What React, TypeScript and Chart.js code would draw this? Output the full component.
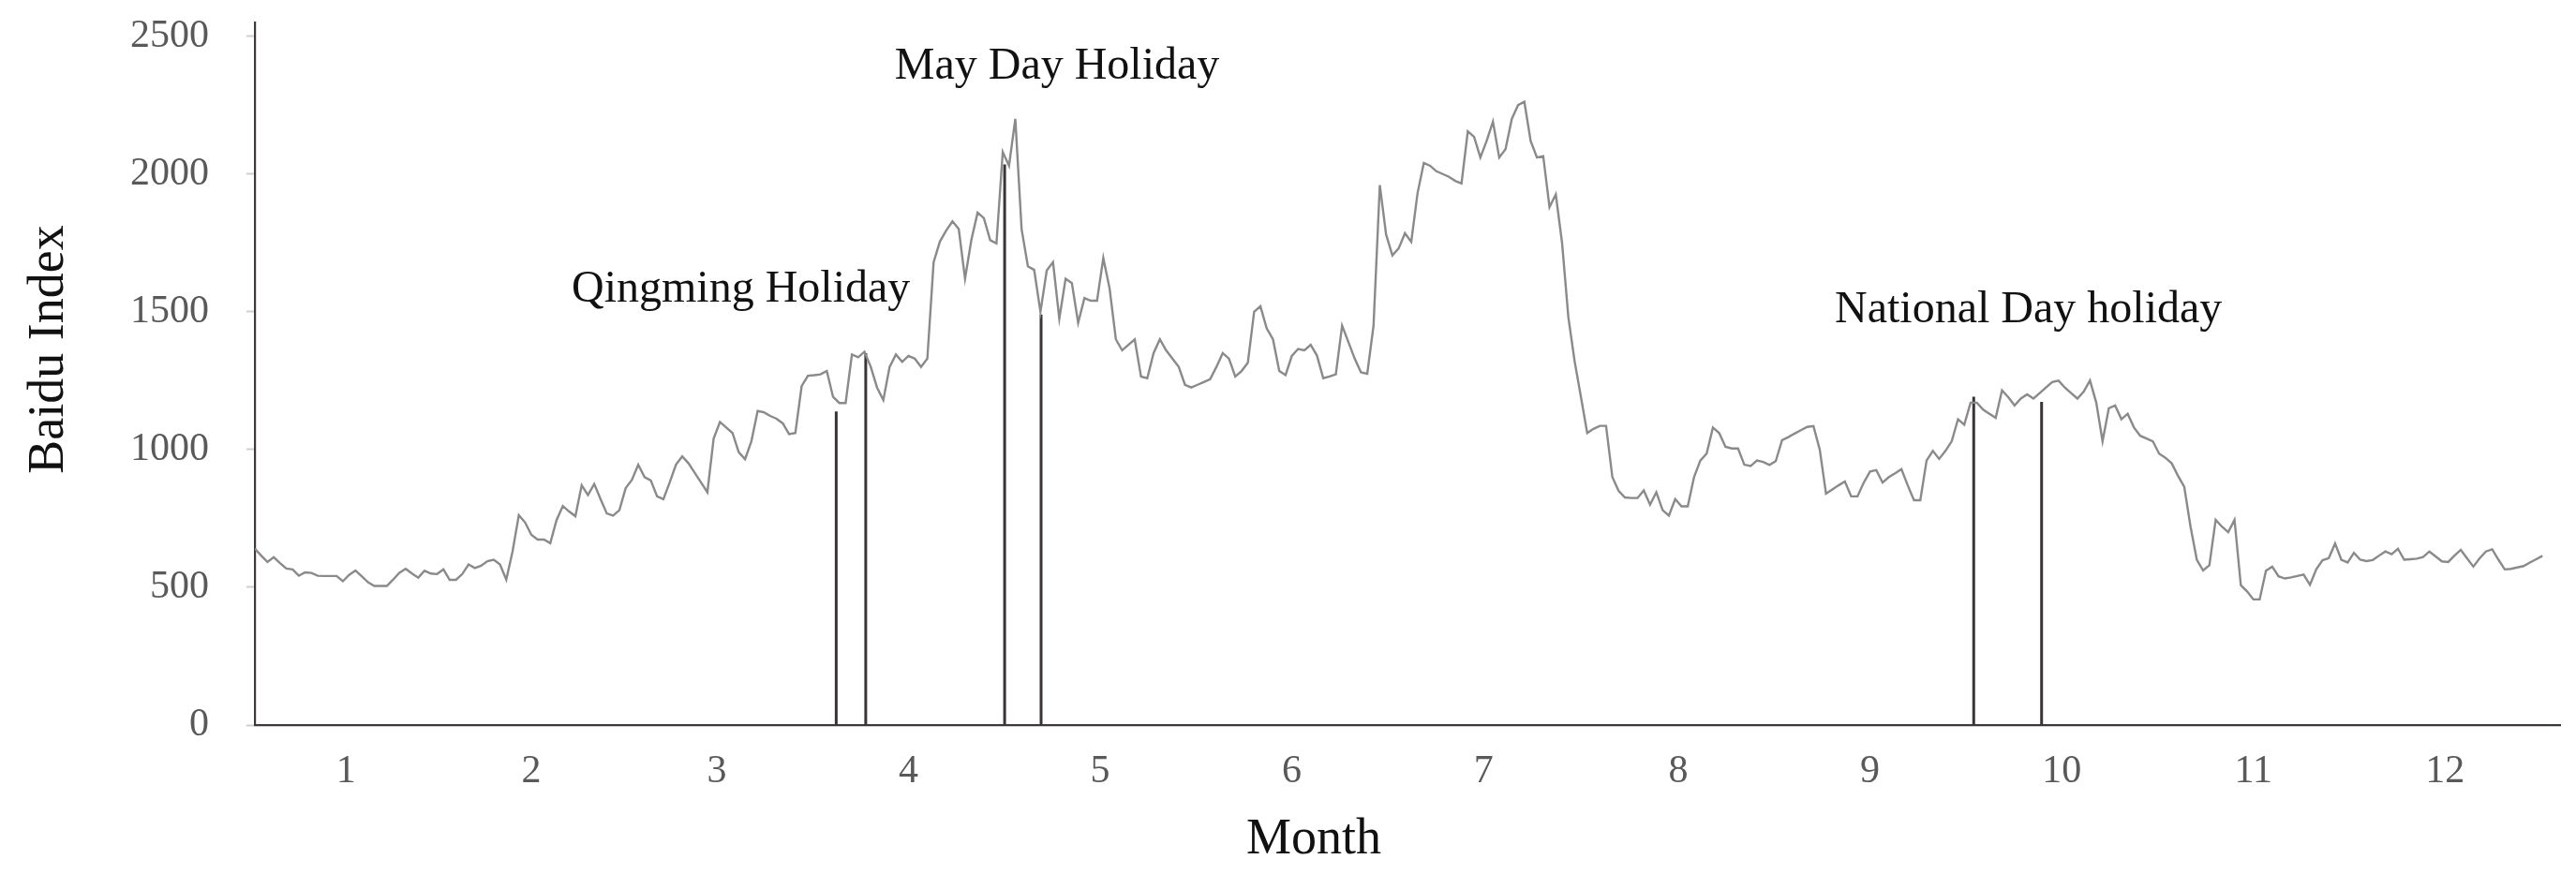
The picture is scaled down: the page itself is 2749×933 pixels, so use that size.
import React, { useEffect, useRef } from 'react';
import { Chart, registerables } from 'chart.js';

Chart.register(...registerables);

const SERIF = "'Liberation Serif', 'Times New Roman', serif";

const monthLabels = ['1', '2', '3', '4', '5', '6', '7', '8', '9', '10', '11', '12'];
const monthLengths = [31, 28, 31, 30, 31, 30, 31, 31, 30, 31, 30, 31];
const yTickValues = [0, 500, 1000, 1500, 2000, 2500];

// Daily Baidu Index, day 0 = 1 January
const dailyIndex = [
  640, 615, 592, 609, 588, 568, 565, 542, 554, 552,
  542, 541, 541, 541, 522, 545, 561, 540, 518, 505,
  505, 505, 528, 553, 567, 550, 535, 560, 550, 548,
  565, 527, 527, 548, 583, 570, 578, 595, 600, 583,
  528, 630, 762, 735, 690, 673, 673, 660, 744, 795,
  775, 758, 870, 835, 875, 820, 768, 760, 780, 860,
  890, 945, 900, 888, 830, 820, 880, 945, 975, 950,
  915, 880, 845, 1040, 1100, 1080, 1060, 990, 965, 1030,
  1140, 1135, 1122, 1112, 1095, 1056, 1060, 1230, 1268, 1270,
  1273, 1285, 1191, 1169, 1169, 1345, 1335, 1355, 1300, 1225,
  1180, 1300, 1345, 1318, 1340, 1330, 1300, 1330, 1680, 1755,
  1795, 1828, 1800, 1620, 1760, 1860, 1840, 1760, 1748, 2080,
  2030, 2200, 1800, 1665, 1652, 1500, 1650, 1680, 1475, 1620,
  1604, 1460, 1550, 1540, 1540, 1695, 1585, 1400, 1360, 1380,
  1400, 1265, 1259, 1350, 1400, 1360, 1330, 1300, 1235, 1225,
  1235, 1245, 1255, 1300, 1350, 1330, 1265, 1285, 1315, 1500,
  1520, 1440, 1400, 1285, 1270, 1340, 1365, 1360, 1380, 1341,
  1259, 1265, 1273, 1450, 1390, 1330, 1280, 1275, 1450, 1960,
  1780, 1705, 1730, 1785, 1754, 1930, 2040, 2030, 2010, 2000,
  1990, 1975, 1966, 2155, 2135, 2060, 2120, 2190, 2060, 2090,
  2200, 2250, 2262, 2120, 2060, 2065, 1880, 1926, 1750, 1480,
  1320, 1191, 1060, 1075, 1086, 1086, 900, 850, 826, 824,
  824, 852, 800, 845, 780, 760, 820, 794, 794, 900,
  960, 985, 1080, 1060, 1010, 1004, 1004, 945, 940, 960,
  955, 944, 958, 1034, 1045, 1058, 1070, 1082, 1085, 1000,
  840, 855, 870, 884, 830, 830, 880, 920, 925, 880,
  900, 914, 929, 870, 816, 816, 960, 995, 966, 995,
  1030, 1110, 1090, 1170, 1170, 1145, 1130, 1115, 1215, 1190,
  1160, 1185, 1200, 1185, 1205, 1225, 1245, 1250, 1225, 1205,
  1185, 1210, 1251, 1170, 1030, 1150, 1160, 1110, 1130, 1080,
  1050, 1040, 1030, 985, 970, 950, 905, 865, 720, 600,
  561, 580, 745, 720, 700, 745, 508, 485, 456, 456,
  560, 575, 540, 532, 536, 541, 546, 509, 565, 598,
  606, 659, 600, 590, 625, 600, 595, 599, 615, 630,
  620, 640, 600, 602, 604, 610, 630, 612, 594, 592,
  615, 636, 605, 575, 605, 630, 638, 600, 565, 567,
  572, 577, 590, 602, 614,
];

// Holiday marker lines (day of year, height in index units)
const holidayLineDays = [92.5, 97.2, 119.3, 125.1, 273.5, 284.3];
const holidayLineTops = [1138, 1350, 2035, 1490, 1192, 1173];

// Holiday captions (text, anchored at day / index value of the text's left baseline)
const holidayCaptions = ['Qingming Holiday', 'May Day Holiday', 'National Day holiday'];
const captionDays = [50.4, 101.8, 251.4];
const captionValues = [1537, 2347, 1462];

const monthCenters: number[] = [];
{
  let start = 0;
  for (const len of monthLengths) {
    monthCenters.push(start + len / 2 - 1);
    start += len;
  }
}

const overlayPlugin = {
  id: 'overlayText',
  afterDraw(chart: any) {
    const { ctx, scales } = chart;
    const xs = scales.x;
    const ys = scales.y;
    ctx.save();
    ctx.fillStyle = '#111111';
    ctx.font = `48px ${SERIF}`;
    ctx.textAlign = 'left';
    ctx.textBaseline = 'alphabetic';
    holidayCaptions.forEach((t, i) => {
      ctx.fillText(t, xs.getPixelForValue(captionDays[i]), ys.getPixelForValue(captionValues[i]));
    });
    ctx.font = `54px ${SERIF}`;
    ctx.textAlign = 'center';
    ctx.fillText('Month', 1402, 911);
    ctx.translate(67, 373);
    ctx.rotate(-Math.PI / 2);
    ctx.fillText('Baidu Index', 0, 0);
    ctx.restore();
  },
};

export default function App() {
  const canvasRef = useRef<HTMLCanvasElement | null>(null);

  useEffect(() => {
    document.body.style.margin = '0';
    const canvas = canvasRef.current;
    if (!canvas) return;
    const axisColor = '#3f3838';
    const tickFont = { family: SERIF, size: 42 };

    const chart = new Chart(canvas, {
      type: 'line',
      data: {
        datasets: [
          {
            data: dailyIndex.map((v, i) => ({ x: i, y: v })),
            borderColor: '#8a8a8a',
            borderWidth: 2.4,
            pointRadius: 0,
            tension: 0,
          },
          {
            data: holidayLineDays.flatMap((d, i) => [
              { x: d, y: 0 },
              { x: d, y: holidayLineTops[i] },
              { x: d, y: null },
            ]),
            borderColor: '#3b3434',
            borderWidth: 3,
            pointRadius: 0,
            spanGaps: false,
          },
        ],
      } as any,
      options: {
        animation: false,
        responsive: false,
        devicePixelRatio: 1,
        layout: { padding: { top: 24, right: 17, left: 0, bottom: 0 } },
        plugins: { legend: { display: false }, tooltip: { enabled: false } },
        scales: {
          x: {
            type: 'linear',
            min: 0,
            max: 366.8,
            afterBuildTicks: (s: any) => {
              s.ticks = monthCenters.map((v) => ({ value: v }));
            },
            afterFit: (s: any) => {
              s.height = 159;
              s.paddingLeft = 0;
              s.paddingRight = 0;
            },
            ticks: {
              callback: (_v: any, i: number) => monthLabels[i],
              autoSkip: false,
              maxRotation: 0,
              minRotation: 0,
              font: tickFont,
              color: '#595959',
              padding: 25,
            },
            grid: { display: false, drawTicks: false },
            border: { display: true, color: axisColor, width: 2.2 },
          },
          y: {
            min: 0,
            max: 2550,
            afterBuildTicks: (s: any) => {
              s.ticks = yTickValues.map((v) => ({ value: v }));
            },
            afterFit: (s: any) => {
              s.width = 272;
              s.paddingTop = 0;
              s.paddingBottom = 0;
            },
            ticks: {
              font: tickFont,
              color: '#595959',
              padding: 40,
              callback: (v: any) => String(v),
            },
            grid: {
              drawOnChartArea: false,
              drawTicks: true,
              tickLength: 9,
              tickColor: '#cfcfcf',
              tickWidth: 2,
            },
            border: { display: true, color: axisColor, width: 2.2 },
          },
        },
      } as any,
      plugins: [overlayPlugin],
    });

    return () => chart.destroy();
  }, []);

  return (
    <div style={{ width: 2749, height: 933 }}>
      <canvas ref={canvasRef} width={2749} height={933} style={{ display: 'block' }} />
    </div>
  );
}
